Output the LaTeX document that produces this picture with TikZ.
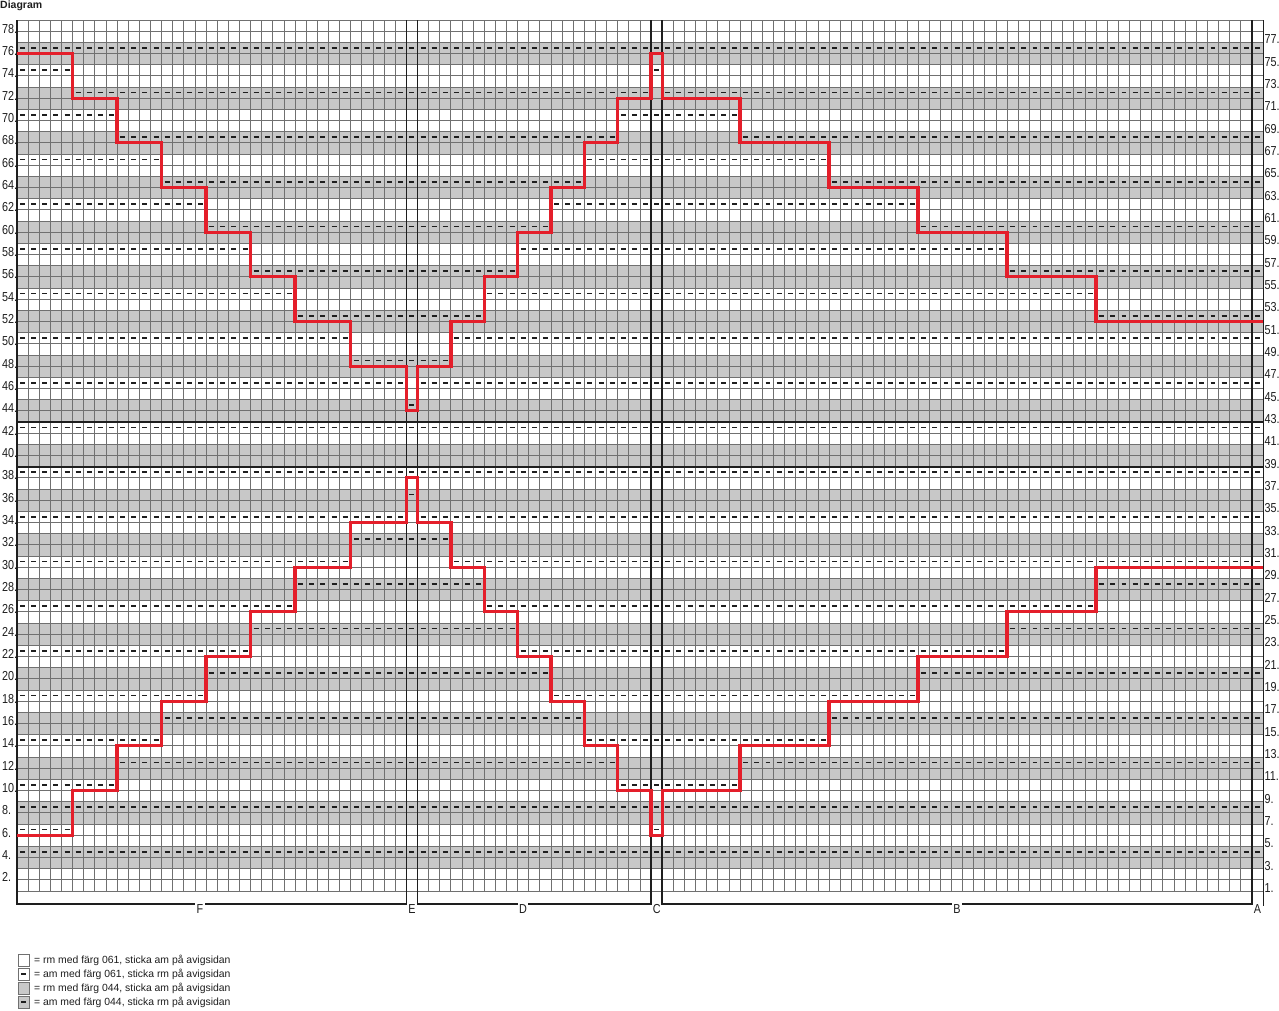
\documentclass[tikz,border=0pt]{standalone}
\usepackage{fontspec}
\setmainfont{Liberation Sans}
\newfontfamily\narrowfont[FakeStretch=0.83]{Liberation Sans}
\definecolor{bandgray}{RGB}{200,200,200}
\definecolor{gridgray}{RGB}{112,112,112}
\definecolor{chartred}{RGB}{228,30,42}
\definecolor{inkblack}{RGB}{30,30,30}
% level (row number) of the upper red staircase for column #1
\newcommand\levelof[1]{%
  \def\Lv{76}%
  \ifnum#1>4 \def\Lv{72}\fi
  \ifnum#1>8 \def\Lv{68}\fi
  \ifnum#1>12 \def\Lv{64}\fi
  \ifnum#1>16 \def\Lv{60}\fi
  \ifnum#1>20 \def\Lv{56}\fi
  \ifnum#1>24 \def\Lv{52}\fi
  \ifnum#1>29 \def\Lv{48}\fi
  \ifnum#1>34 \def\Lv{44}\fi
  \ifnum#1>35 \def\Lv{48}\fi
  \ifnum#1>38 \def\Lv{52}\fi
  \ifnum#1>41 \def\Lv{56}\fi
  \ifnum#1>44 \def\Lv{60}\fi
  \ifnum#1>47 \def\Lv{64}\fi
  \ifnum#1>50 \def\Lv{68}\fi
  \ifnum#1>53 \def\Lv{72}\fi
  \ifnum#1>56 \def\Lv{76}\fi
  \ifnum#1>57 \def\Lv{72}\fi
  \ifnum#1>64 \def\Lv{68}\fi
  \ifnum#1>72 \def\Lv{64}\fi
  \ifnum#1>80 \def\Lv{60}\fi
  \ifnum#1>88 \def\Lv{56}\fi
  \ifnum#1>96 \def\Lv{52}\fi
}
\newcommand\purlat[2]{\draw[purlmark] ({#1+0.28},{78.5-#2}) -- ({#1+0.72},{78.5-#2});}
\begin{document}
\begin{tikzpicture}[x=1pt,y=-1pt,
  gridline/.style={draw=gridgray, line width=0.9pt},
  purlmark/.style={draw=inkblack, line width=1.8pt},
  heavyline/.style={draw=inkblack, line width=1.7pt},
  redpath/.style={draw=chartred, line width=3.3pt, line join=miter},
  rowlab/.style={font=\narrowfont\fontsize{13}{13}\selectfont, text=inkblack, inner sep=0pt},
  seclab/.style={font=\narrowfont\fontsize{13}{13}\selectfont, text=inkblack, inner sep=1.5pt},
  legtext/.style={font=\fontsize{10.4}{12}\selectfont, text=inkblack, inner sep=0pt, anchor=base west},
  legbox/.style={draw=gridgray, line width=0.8pt, minimum width=11.5pt, minimum height=11.5pt, inner sep=0pt}
]
\useasboundingbox (0,0) rectangle (1279,1010);
\fill[white] (0,0) rectangle (1279,1010);

\node[font=\bfseries\fontsize{10.5}{12}\selectfont, anchor=base west, inner sep=0pt, text=inkblack] (title) at (0,8.5) {Diagram};

\begin{scope}[shift={(17,20)}, x=11.125pt, y=-11.16667pt]
  % grey stripes (rows 4k-1 and 4k)
  \foreach \kk in {1,...,19}{
    \fill[bandgray] (0,{78-4*\kk}) rectangle (112,{80-4*\kk});
  }
  % grid
  \foreach \ii in {0,...,112}{ \draw[gridline] (\ii,0) -- (\ii,78); }
  \foreach \kk in {0,...,78}{ \draw[gridline] (0,\kk) -- (112,\kk); }
  % purl marks
  \foreach \cc in {0,...,111}{
    \levelof{\cc}
    \foreach \rr in {2,4,...,78}{
      \ifodd\numexpr\rr/2\relax \def\rt{2}\else \def\rt{0}\fi
      \def\want{0}%
      \ifnum\rr>39
        \ifnum\rr<\Lv\relax \def\want{2}\fi
      \else
        \ifnum\rr<\numexpr82-\Lv\relax\else \def\want{2}\fi
      \fi
      \ifnum\rt=\want\relax \purlat{\cc}{\rr}\else \ifnum\rr=8 \purlat{\cc}{\rr}\fi\fi
    }
  }
\end{scope}

% heavy section lines and base brackets
\draw[heavyline] (17,20) -- (17,904) -- (406.375,904) -- (406.375,20);
\draw[heavyline] (417.5,20) -- (417.5,904) -- (651.125,904) -- (651.125,20);
\draw[heavyline] (662.25,20) -- (662.25,904) -- (1251.875,904) -- (1251.875,20);
\draw[draw=inkblack, line width=1pt] (1263,20) -- (1263,906);
\draw[heavyline] (17,422) -- (1263,422);
\draw[heavyline] (17,466.67) -- (1263,466.67);

\begin{scope}[shift={(17,20)}, x=11.125pt, y=-11.16667pt]
  \draw[redpath] (0,3) -- (5,3) -- (5,7) -- (9,7) -- (9,11) -- (13,11) -- (13,15) -- (17,15)
    -- (17,19) -- (21,19) -- (21,23) -- (25,23) -- (25,27) -- (30,27) -- (30,31) -- (35,31)
    -- (35,35) -- (36,35) -- (36,31) -- (39,31) -- (39,27) -- (42,27) -- (42,23) -- (45,23)
    -- (45,19) -- (48,19) -- (48,15) -- (51,15) -- (51,11) -- (54,11) -- (54,7) -- (57,7)
    -- (57,3) -- (58,3) -- (58,7) -- (65,7) -- (65,11) -- (73,11) -- (73,15) -- (81,15)
    -- (81,19) -- (89,19) -- (89,23) -- (97,23) -- (97,27) -- (112,27);
  \draw[redpath] (0,73) -- (5,73) -- (5,69) -- (9,69) -- (9,65) -- (13,65) -- (13,61) -- (17,61)
    -- (17,57) -- (21,57) -- (21,53) -- (25,53) -- (25,49) -- (30,49) -- (30,45) -- (35,45)
    -- (35,41) -- (36,41) -- (36,45) -- (39,45) -- (39,49) -- (42,49) -- (42,53) -- (45,53)
    -- (45,57) -- (48,57) -- (48,61) -- (51,61) -- (51,65) -- (54,65) -- (54,69) -- (57,69)
    -- (57,73) -- (58,73) -- (58,69) -- (65,69) -- (65,65) -- (73,65) -- (73,61) -- (81,61)
    -- (81,57) -- (89,57) -- (89,53) -- (97,53) -- (97,49) -- (112,49);
\end{scope}

% row numbers
\foreach \rr in {2,4,...,78}{
  \node[rowlab, anchor=base west] (left\rr) at (2,{20+(79-\rr)*11.16667+2}) {\rr.};
}
\foreach \rr in {1,3,...,77}{
  \node[rowlab, anchor=base west] (right\rr) at (1264.5,{20+(79-\rr)*11.16667+1.5}) {\rr.};
}

% section letters
\node[seclab, fill=white] (secF) at (200,909) {F};
\node[seclab] (secE) at (411.9,909.5) {E};
\node[seclab, fill=white] (secD) at (523,909) {D};
\node[seclab] (secC) at (656.7,909.5) {C};
\node[seclab, fill=white] (secB) at (957,909) {B};
\node[seclab] (secA) at (1257.4,909.5) {A};

% legend
\node[legbox, fill=white] (key1) at (23.75,960.25) {};
\node[legbox, fill=white] (key2) at (23.75,974.25) {};
\node[legbox, fill=bandgray] (key3) at (23.75,988.25) {};
\node[legbox, fill=bandgray] (key4) at (23.75,1002.25) {};
\draw[purlmark] ([xshift=-2.4pt]key2.center) -- ([xshift=2.4pt]key2.center);
\draw[purlmark] ([xshift=-2.4pt]key4.center) -- ([xshift=2.4pt]key4.center);
\node[legtext] (txt1) at (34,963.8) {= rm med färg 061, sticka am på avigsidan};
\node[legtext] (txt2) at (34,977.8) {= am med färg 061, sticka rm på avigsidan};
\node[legtext] (txt3) at (34,991.8) {= rm med färg 044, sticka am på avigsidan};
\node[legtext] (txt4) at (34,1005.8) {= am med färg 044, sticka rm på avigsidan};
\end{tikzpicture}
\end{document}
